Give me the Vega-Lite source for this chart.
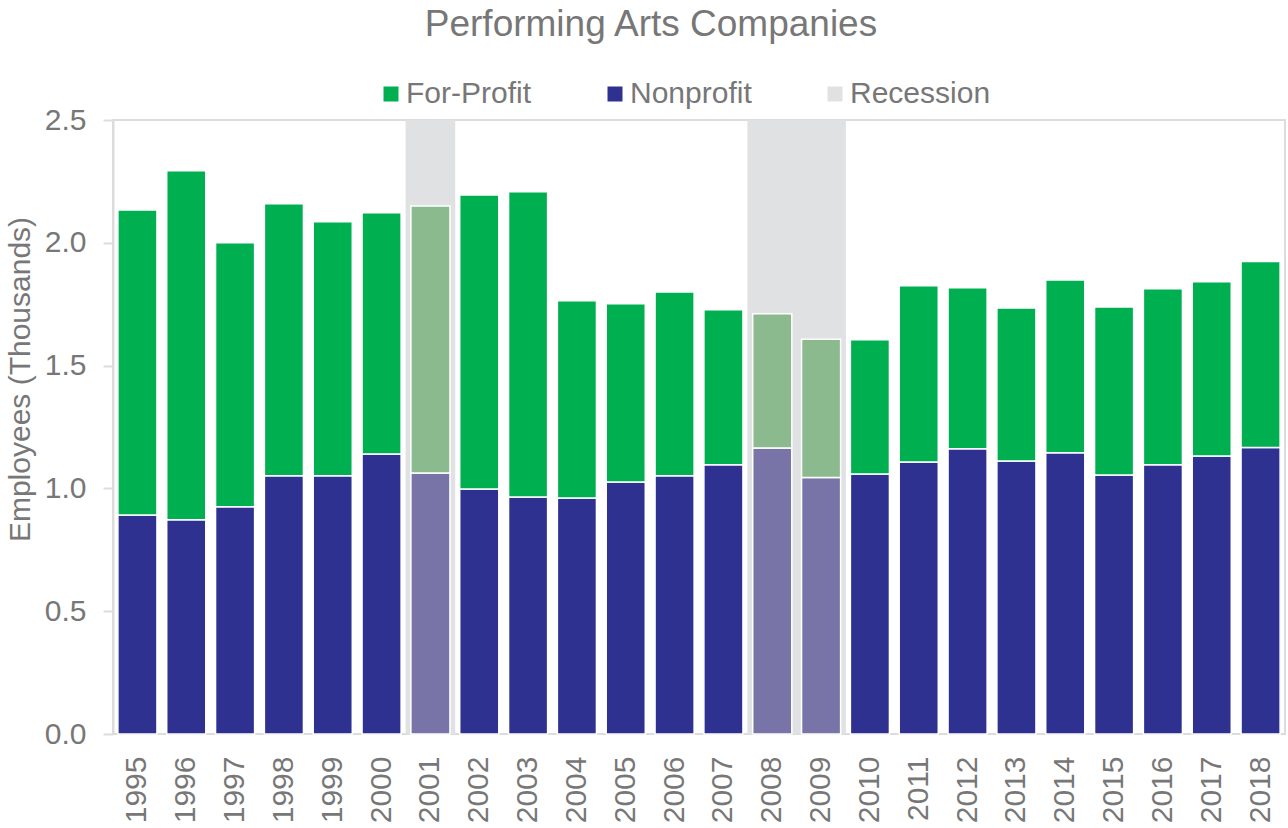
{
  "$schema": "https://vega.github.io/schema/vega-lite/v6.json",
  "width": 1172,
  "height": 614,
  "autosize": {"type": "none"},
  "padding": {"left": 113, "top": 120, "right": 3, "bottom": 94},
  "title": {
    "text": "Performing Arts Companies",
    "anchor": "middle",
    "frame": "group",
    "dx": -48,
    "offset": 35,
    "font": "Liberation Sans",
    "fontSize": 37,
    "fontWeight": "normal",
    "color": "#777777"
  },
  "config": {
    "font": "Liberation Sans",
    "view": {"stroke": "#dcdcdc", "strokeWidth": 2},
    "axis": {
      "labelFont": "Liberation Sans",
      "titleFont": "Liberation Sans",
      "labelColor": "#777777",
      "titleColor": "#777777",
      "labelFontSize": 30,
      "titleFontSize": 30,
      "titleFontWeight": "normal",
      "gridColor": "#dcdcdc",
      "gridWidth": 2,
      "domainColor": "#dcdcdc",
      "domainWidth": 2,
      "tickColor": "#dcdcdc",
      "tickWidth": 2
    },
    "legend": {
      "labelFont": "Liberation Sans",
      "labelFontSize": 30,
      "labelColor": "#777777"
    }
  },
  "datasets": {
    "employees": [
      {"year": "1995", "type": "Nonprofit", "value": 0.892, "recession": false},
      {"year": "1995", "type": "For-Profit", "value": 1.242, "recession": false},
      {"year": "1996", "type": "Nonprofit", "value": 0.872, "recession": false},
      {"year": "1996", "type": "For-Profit", "value": 1.421, "recession": false},
      {"year": "1997", "type": "Nonprofit", "value": 0.925, "recession": false},
      {"year": "1997", "type": "For-Profit", "value": 1.075, "recession": false},
      {"year": "1998", "type": "Nonprofit", "value": 1.051, "recession": false},
      {"year": "1998", "type": "For-Profit", "value": 1.108, "recession": false},
      {"year": "1999", "type": "Nonprofit", "value": 1.051, "recession": false},
      {"year": "1999", "type": "For-Profit", "value": 1.035, "recession": false},
      {"year": "2000", "type": "Nonprofit", "value": 1.140, "recession": false},
      {"year": "2000", "type": "For-Profit", "value": 0.982, "recession": false},
      {"year": "2001", "type": "Nonprofit", "value": 1.063, "recession": true},
      {"year": "2001", "type": "For-Profit", "value": 1.087, "recession": true},
      {"year": "2002", "type": "Nonprofit", "value": 0.998, "recession": false},
      {"year": "2002", "type": "For-Profit", "value": 1.197, "recession": false},
      {"year": "2003", "type": "Nonprofit", "value": 0.965, "recession": false},
      {"year": "2003", "type": "For-Profit", "value": 1.243, "recession": false},
      {"year": "2004", "type": "Nonprofit", "value": 0.961, "recession": false},
      {"year": "2004", "type": "For-Profit", "value": 0.803, "recession": false},
      {"year": "2005", "type": "Nonprofit", "value": 1.026, "recession": false},
      {"year": "2005", "type": "For-Profit", "value": 0.726, "recession": false},
      {"year": "2006", "type": "Nonprofit", "value": 1.051, "recession": false},
      {"year": "2006", "type": "For-Profit", "value": 0.749, "recession": false},
      {"year": "2007", "type": "Nonprofit", "value": 1.096, "recession": false},
      {"year": "2007", "type": "For-Profit", "value": 0.631, "recession": false},
      {"year": "2008", "type": "Nonprofit", "value": 1.165, "recession": true},
      {"year": "2008", "type": "For-Profit", "value": 0.546, "recession": true},
      {"year": "2009", "type": "Nonprofit", "value": 1.044, "recession": true},
      {"year": "2009", "type": "For-Profit", "value": 0.563, "recession": true},
      {"year": "2010", "type": "Nonprofit", "value": 1.059, "recession": false},
      {"year": "2010", "type": "For-Profit", "value": 0.546, "recession": false},
      {"year": "2011", "type": "Nonprofit", "value": 1.108, "recession": false},
      {"year": "2011", "type": "For-Profit", "value": 0.717, "recession": false},
      {"year": "2012", "type": "Nonprofit", "value": 1.161, "recession": false},
      {"year": "2012", "type": "For-Profit", "value": 0.656, "recession": false},
      {"year": "2013", "type": "Nonprofit", "value": 1.112, "recession": false},
      {"year": "2013", "type": "For-Profit", "value": 0.623, "recession": false},
      {"year": "2014", "type": "Nonprofit", "value": 1.145, "recession": false},
      {"year": "2014", "type": "For-Profit", "value": 0.704, "recession": false},
      {"year": "2015", "type": "Nonprofit", "value": 1.055, "recession": false},
      {"year": "2015", "type": "For-Profit", "value": 0.684, "recession": false},
      {"year": "2016", "type": "Nonprofit", "value": 1.096, "recession": false},
      {"year": "2016", "type": "For-Profit", "value": 0.717, "recession": false},
      {"year": "2017", "type": "Nonprofit", "value": 1.132, "recession": false},
      {"year": "2017", "type": "For-Profit", "value": 0.709, "recession": false},
      {"year": "2018", "type": "Nonprofit", "value": 1.167, "recession": false},
      {"year": "2018", "type": "For-Profit", "value": 0.757, "recession": false}
    ],
    "recessions": [
      {"year": "2001", "type": "Recession"},
      {"year": "2008", "type": "Recession"},
      {"year": "2009", "type": "Recession"}
    ]
  },
  "encoding": {
    "x": {
      "field": "year",
      "type": "nominal",
      "scale": {"paddingInner": 0.2, "paddingOuter": 0.1},
      "axis": {
        "title": null,
        "labelAngle": 270,
        "labelPadding": 22,
        "ticks": false,
        "domain": false
      }
    }
  },
  "layer": [
    {
      "data": {"name": "recessions"},
      "mark": {"type": "bar", "width": {"band": 1.27}},
      "encoding": {
        "y": {
          "datum": 2.5,
          "type": "quantitative",
          "scale": {"domain": [0, 2.5], "nice": false}
        },
        "color": {"field": "type", "type": "nominal"}
      }
    },
    {
      "data": {"name": "employees"},
      "transform": [
        {"calculate": "datum.recession ? datum.type + ' (recession)' : datum.type", "as": "key"}
      ],
      "mark": {"type": "bar", "stroke": "white", "strokeWidth": 1.5},
      "encoding": {
        "y": {
          "field": "value",
          "type": "quantitative",
          "stack": "zero",
          "scale": {"domain": [0, 2.5], "nice": false},
          "axis": {
            "title": "Employees (Thousands)",
            "values": [0, 0.5, 1, 1.5, 2, 2.5],
            "format": ".1f",
            "tickSize": 10,
            "labelPadding": 17,
            "titleAngle": -90,
            "titleX": -84,
            "titleY": 259,
            "titleAlign": "center",
            "titleBaseline": "alphabetic"
          }
        },
        "color": {
          "field": "key",
          "type": "nominal",
          "scale": {
            "domain": ["For-Profit", "Nonprofit", "Recession", "For-Profit (recession)", "Nonprofit (recession)"],
            "range": ["#00af50", "#2e3190", "#e0e1e3", "#8bba8e", "#7874a8"]
          },
          "legend": {
            "title": null,
            "values": ["For-Profit", "Nonprofit", "Recession"],
            "orient": "none",
            "direction": "horizontal",
            "legendX": 263,
            "legendY": -41,
            "symbolType": "square",
            "symbolSize": 225,
            "symbolStrokeWidth": 0,
            "labelOffset": 0,
            "columnPadding": 68
          }
        },
        "order": {"field": "type", "sort": "descending"}
      }
    }
  ]
}
